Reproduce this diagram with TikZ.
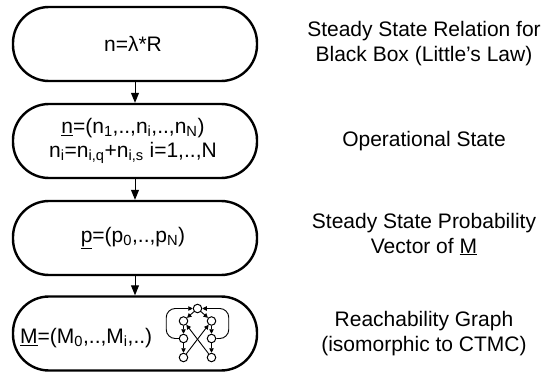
\documentclass[tikz,border=0pt]{standalone}
\usepackage{fontspec}
\setmainfont{Liberation Sans}
\usetikzlibrary{arrows.meta}

\begin{document}
\begin{tikzpicture}[x=1pt,y=-1pt,
  capsule/.style={draw, line width=2.4pt, rounded corners=36pt,
    minimum width=244pt, minimum height=74pt, inner sep=0pt, align=center,
    font=\fontsize{21}{24}\selectfont},
  boxtext/.style={inner sep=0pt, align=center, font=\fontsize{21}{24}\selectfont},
  note/.style={align=center, inner sep=0pt, font=\fontsize{21}{25}\selectfont},
  flow/.style={-{Triangle[length=10pt,width=8pt]}, line width=1pt},
  st/.style={circle, draw, line width=1pt, minimum size=8.5pt, inner sep=0pt},
  tr/.style={-{Triangle[length=4.5pt,width=4.5pt]}, line width=0.9pt}
]
\useasboundingbox (0,0) rectangle (542,372);

% flow of the derivation
\node[capsule] (b1) at (135,44) {};
\node[capsule] (b2) at (135,141) {};
\node[capsule] (b3) at (135,238) {};
\node[capsule] (b4) at (135,333.5) {};

\node[boxtext] (t1) at (133,44) {n=λ*R};
\node[boxtext] (t2) at (133,141) {\underline{n}=(n\textsubscript{1},..,n\textsubscript{i},..,n\textsubscript{N})\\
  n\textsubscript{i}=n\textsubscript{i,q}+n\textsubscript{i,s} i=1,..,N};
\node[boxtext] (t3) at (133,238) {\underline{p}=(p\textsubscript{0},..,p\textsubscript{N})};
\node[boxtext, anchor=west] (t4) at (20,338) {\underline{M}=(M\textsubscript{0},..,M\textsubscript{i},..)};

\draw[flow] (b1.south) -- (b2.north);
\draw[flow] (b2.south) -- (b3.north);
\draw[flow] (b3.south) -- (b4.north);

% small reachability graph
\foreach \n/\x/\y in {gT/197.5/308.5, gL1/183.5/321, gR1/211.5/321,
                      gL2/183.5/338.5, gR2/211.5/338.5,
                      gL3/183.5/357.5, gR3/211.5/357.5}
  \node[st] (\n) at (\x,\y) {};
\draw[tr] (gT) -- (gL1);
\draw[tr] (gT) -- (gR1);
\draw[tr] (gL1) -- (gL2);
\draw[tr] (gL2) -- (gL3);
\draw[tr] (gR1) -- (gR2);
\draw[tr] (gR2) -- (gR3);
\draw[tr] (gL3) -- (gR1);
\draw[tr] (gR3) -- (gL1);
\draw[tr, rounded corners=9pt] (gL2.west) -- ++(-12.5,0) |- (gT.west);
\draw[tr, rounded corners=9pt] (gR2.east) -- ++(12.5,0) |- (gT.east);

% explanations
\node[note] (l1) at (424,44) {Steady State Relation for\\Black Box (Little’s Law)};
\node[note] (l2) at (424,141.5) {Operational State};
\node[note] (l3) at (424,234) {Steady State Probability\\Vector of \underline{M}};
\node[note] (l4) at (424,334) {Reachability Graph\\(isomorphic to CTMC)};
\end{tikzpicture}
\end{document}
